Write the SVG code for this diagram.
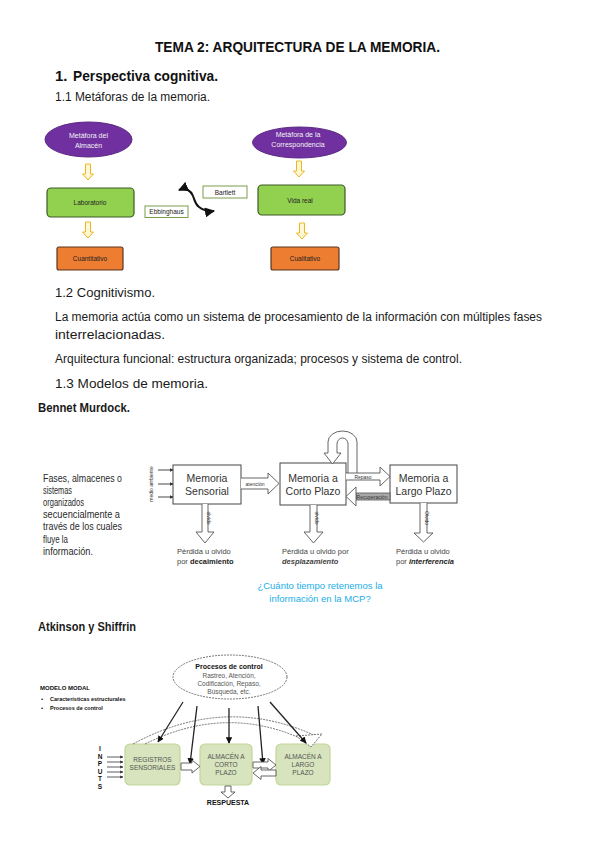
<svg xmlns="http://www.w3.org/2000/svg" width="599" height="848" viewBox="0 0 599 848">
<defs>
<style>
text{font-family:"Liberation Sans",Arial,sans-serif;fill:#111}
.b{font-weight:bold}
.bi{font-weight:bold;font-style:italic}
.p{font-size:12.5px;fill:#1a1a1a}
.dt{font-size:6.5px;fill:#222}
.wt{font-size:7px;fill:#f2f2f2}
.ml{font-size:10px;fill:#2a2a2a}
.bx{font-size:10.5px;fill:#333}
.tiny{font-size:5px;fill:#333}
.cap{font-size:7.5px;fill:#444}
.q{font-size:9.5px;fill:#1aaee8}
.at{font-size:6.5px;fill:#555}
.ya{fill:#fff6d5;stroke:#e8b820;stroke-width:1}
.purple{fill:#7030a0;stroke:#5a2a82;stroke-width:1}
.green{fill:#92d050;stroke:#3d5a26;stroke-width:1.2}
.orange{fill:#ed7d31;stroke:#5b3420;stroke-width:1.2}
.wbox{fill:#fff;stroke:#7aa04a;stroke-width:1}
.mb{fill:#fff;stroke:#444;stroke-width:1}
.ho{fill:#fff;stroke:#555;stroke-width:0.9}
.ab{fill:#d7e4bd;stroke:#c2d69b;stroke-width:1.2}
.blk{fill:none;stroke:#222;stroke-width:1.3}
.dash{fill:none;stroke:#666;stroke-width:0.9;stroke-dasharray:2 1}
</style>
<marker id="ah" viewBox="0 0 10 10" refX="9" refY="5" markerWidth="5" markerHeight="5" orient="auto-start-reverse"><path d="M0,0 L10,5 L0,10 z" fill="#111"/></marker>
<marker id="ah2" viewBox="0 0 10 10" refX="9" refY="5" markerWidth="4" markerHeight="4" orient="auto"><path d="M0,0 L10,5 L0,10 z" fill="#333"/></marker>
<path id="ya" d="M-2.5,0 H2.5 V10 H5.5 L0,16 L-5.5,10 H-2.5 Z"/>
</defs>
<rect width="599" height="848" fill="#fff"/>

<g id="headings">
<text x="155" y="52" class="b" font-size="15" textLength="285" lengthAdjust="spacingAndGlyphs">TEMA 2: ARQUITECTURA DE LA MEMORIA.</text>
<text x="55" y="81" class="b" font-size="15">1.</text>
<text x="73" y="81" class="b" font-size="15" textLength="145" lengthAdjust="spacingAndGlyphs">Perspectiva cognitiva.</text>
<text x="55" y="101" class="p" textLength="155" lengthAdjust="spacingAndGlyphs">1.1 Metáforas de la memoria.</text>
<text x="55" y="297" class="p" textLength="100" lengthAdjust="spacingAndGlyphs">1.2 Cognitivismo.</text>
<text x="55" y="321" class="p" textLength="487" lengthAdjust="spacingAndGlyphs">La memoria actúa como un sistema de procesamiento de la información con múltiples fases</text>
<text x="55" y="339" class="p" textLength="110" lengthAdjust="spacingAndGlyphs">interrelacionadas.</text>
<text x="55" y="363" class="p" textLength="407" lengthAdjust="spacingAndGlyphs">Arquitectura funcional: estructura organizada; procesos y sistema de control.</text>
<text x="55" y="388" class="p" textLength="153" lengthAdjust="spacingAndGlyphs">1.3 Modelos de memoria.</text>
<text x="38" y="412" class="p b" textLength="92" lengthAdjust="spacingAndGlyphs">Bennet Murdock.</text>
<text x="38" y="631" class="p b" textLength="98" lengthAdjust="spacingAndGlyphs">Atkinson y Shiffrin</text>
</g>

<!-- Metaphors diagram -->
<g id="met-almacen">
<ellipse cx="88.5" cy="139.5" rx="43.5" ry="17.5" class="purple"/>
<text x="88.5" y="138" class="wt" text-anchor="middle">Metáfora del</text>
<text x="88.5" y="147.5" class="wt" text-anchor="middle">Almacén</text>
</g>
<g id="laboratorio">
<rect x="47" y="188" width="87" height="29" rx="4" class="green"/>
<text x="90" y="205" class="dt" text-anchor="middle">Laboratorio</text>
</g>
<g id="cuantitativo">
<rect x="57" y="247" width="66" height="23" rx="2" class="orange"/>
<text x="90" y="261" class="dt" text-anchor="middle">Cuantitativo</text>
</g>
<g id="met-corresp">
<ellipse cx="299.5" cy="142.5" rx="47" ry="15.5" class="purple"/>
<text x="298" y="137" class="wt" text-anchor="middle">Metáfora de la</text>
<text x="298" y="147" class="wt" text-anchor="middle">Correspondencia</text>
</g>
<g id="vida-real">
<rect x="258" y="185" width="87" height="30" rx="4" class="green"/>
<text x="300" y="203" class="dt" text-anchor="middle">Vida real</text>
</g>
<g id="cualitativo">
<rect x="271" y="247" width="68" height="23" rx="2" class="orange"/>
<text x="305" y="261" class="dt" text-anchor="middle">Cualitativo</text>
</g>
<g id="ebbinghaus">
<rect x="145" y="206" width="43" height="11.5" class="wbox"/>
<text x="166.5" y="214" class="dt" font-size="6" text-anchor="middle">Ebbinghaus</text>
</g>
<g id="bartlett">
<rect x="203" y="186" width="44" height="12" class="wbox"/>
<text x="225" y="194.5" class="dt" font-size="6" text-anchor="middle">Bartlett</text>
</g>
<g id="met-connectors">
<use href="#ya" x="88" y="164" class="ya"/>
<use href="#ya" x="88" y="222" class="ya"/>
<use href="#ya" x="299" y="161" class="ya"/>
<use href="#ya" x="302" y="223" class="ya"/>
<path d="M179,190 C186,187 191,191 193,196 C195,201 195,204 199,207 C203,210 208,212 214,211" fill="none" stroke="#111" stroke-width="2" marker-start="url(#ah)" marker-end="url(#ah)"/>
</g>

<!-- Murdock -->
<g id="murdock-text">
<text x="43" y="481.5" class="ml" textLength="79" lengthAdjust="spacingAndGlyphs">Fases, almacenes o</text>
<text x="43" y="493.7" class="ml" textLength="29" lengthAdjust="spacingAndGlyphs">sistemas</text>
<text x="43" y="505.9" class="ml" textLength="41" lengthAdjust="spacingAndGlyphs">organizados</text>
<text x="43" y="518.1" class="ml" textLength="77" lengthAdjust="spacingAndGlyphs">secuencialmente a</text>
<text x="43" y="530.3" class="ml" textLength="79" lengthAdjust="spacingAndGlyphs">través de los cuales</text>
<text x="43" y="542.5" class="ml" textLength="25" lengthAdjust="spacingAndGlyphs">fluye la</text>
<text x="43" y="554.7" class="ml" textLength="50" lengthAdjust="spacingAndGlyphs">información.</text>
</g>
<g id="medio-ambiente">
<text transform="translate(153,484) rotate(-90)" class="tiny" font-size="5.5" text-anchor="middle">medio ambiente</text>
</g>
<g id="memoria-sensorial">
<rect x="173" y="465" width="68" height="39" class="mb"/>
<text x="207" y="482" class="bx" text-anchor="middle">Memoria</text>
<text x="207" y="495" class="bx" text-anchor="middle">Sensorial</text>
</g>
<g id="memoria-corto">
<rect x="280" y="463" width="66" height="42" class="mb"/>
<text x="313" y="482" class="bx" text-anchor="middle">Memoria a</text>
<text x="313" y="495" class="bx" text-anchor="middle">Corto Plazo</text>
</g>
<g id="memoria-largo">
<rect x="390" y="465" width="67" height="38" class="mb"/>
<text x="423.5" y="482" class="bx" text-anchor="middle">Memoria a</text>
<text x="423.5" y="495" class="bx" text-anchor="middle">Largo Plazo</text>
</g>
<g id="murdock-connectors">
<line x1="158" y1="470" x2="173" y2="470" stroke="#333" stroke-width="0.9" marker-end="url(#ah2)"/>
<line x1="158" y1="484" x2="173" y2="484" stroke="#333" stroke-width="0.9" marker-end="url(#ah2)"/>
<line x1="158" y1="497" x2="173" y2="497" stroke="#333" stroke-width="0.9" marker-end="url(#ah2)"/>
<path d="M241,478 H268 V473 L279,483.5 L268,494 V489 H241" class="ho"/>
<text x="255" y="485.5" class="tiny" text-anchor="middle">atención</text>
<path d="M348,473 V444 A5.5,6 0 0 0 337,444 V453 H341 L332.5,464 L324,453 H328 V442 A14.5,11 0 0 1 357,442 V473" class="ho"/>
<path d="M346,473 H380 V467 L390,476.5 L380,486 V480 H346" class="ho"/>
<text x="363" y="478.5" class="tiny" font-size="4.5" text-anchor="middle">Repaso</text>
<rect x="356" y="493" width="34" height="7" fill="#a8a8a8" stroke="#555" stroke-width="0.8"/>
<path d="M356,487 L346,496.5 L356,506 Z" class="ho"/>
<text x="372" y="498.5" class="tiny" font-size="4.5" text-anchor="middle">Recuperación</text>
<path d="M202,504 V532 H196 L205,543 L214,532 H208 V504" class="ho"/>
<text transform="translate(206.5,518) rotate(90)" class="tiny" font-size="4.5" text-anchor="middle">olvido</text>
<path d="M310,505 V532 H304 L313.5,543 L323,532 H317 V505" class="ho"/>
<text transform="translate(315,518) rotate(90)" class="tiny" font-size="4.5" text-anchor="middle">olvido</text>
<path d="M420,503 V533 H414 L423.5,542 L433,533 H427 V503" class="ho"/>
<text transform="translate(425,518) rotate(90)" class="tiny" font-size="4.5" text-anchor="middle">Olvido</text>
</g>
<g id="captions">
<text x="177" y="554" class="cap">Pérdida u olvido</text>
<text x="177" y="564" class="cap">por <tspan class="b" fill="#222">decaimiento</tspan></text>
<text x="282" y="554" class="cap">Pérdida u olvido por</text>
<text x="282" y="564" class="cap bi" fill="#222">desplazamiento</text>
<text x="396" y="554" class="cap">Pérdida u olvido</text>
<text x="396" y="564" class="cap">por <tspan class="bi" fill="#222">interferencia</tspan></text>
<text x="320" y="589" class="q" text-anchor="middle">¿Cuánto tiempo retenemos la</text>
<text x="320" y="602" class="q" text-anchor="middle">información en la MCP?</text>
</g>

<!-- Atkinson -->
<g id="modelo-modal">
<text x="40" y="690" class="b" font-size="6" fill="#333">MODELO MODAL</text>
<text x="41" y="701" font-size="6" fill="#333">•</text>
<text x="50" y="701" class="b" font-size="5.5" fill="#333">Características estructurales</text>
<text x="41" y="710" font-size="6" fill="#333">•</text>
<text x="50" y="710" class="b" font-size="5.5" fill="#333">Procesos de control</text>
</g>
<g id="procesos-control">
<ellipse cx="230" cy="677" rx="57" ry="22" fill="#fff" stroke="#666" stroke-width="0.9" stroke-dasharray="2 1"/>
<text x="229" y="669" class="b" font-size="7" fill="#333" text-anchor="middle">Procesos de control</text>
<text x="229" y="677.5" class="at" font-size="6" text-anchor="middle">Rastreo, Atención,</text>
<text x="229" y="685.5" class="at" font-size="6" text-anchor="middle">Codificación, Repaso,</text>
<text x="229" y="693.5" class="at" font-size="6" text-anchor="middle">Búsqueda, etc.</text>
</g>
<g id="registros">
<rect x="125" y="744" width="55" height="41" rx="5" class="ab"/>
<text x="152.5" y="762" class="at" text-anchor="middle">REGISTROS</text>
<text x="152.5" y="770" class="at" text-anchor="middle">SENSORIALES</text>
</g>
<g id="corto-plazo">
<rect x="200" y="744" width="52" height="41" rx="5" class="ab"/>
<text x="226" y="759" class="at" text-anchor="middle">ALMACÉN A</text>
<text x="226" y="767" class="at" text-anchor="middle">CORTO</text>
<text x="226" y="775" class="at" text-anchor="middle">PLAZO</text>
</g>
<g id="largo-plazo">
<rect x="276" y="744" width="54" height="41" rx="5" class="ab"/>
<text x="303" y="759" class="at" text-anchor="middle">ALMACÉN A</text>
<text x="303" y="767" class="at" text-anchor="middle">LARGO</text>
<text x="303" y="775" class="at" text-anchor="middle">PLAZO</text>
</g>
<g id="inputs">
<text x="100" y="751" class="b" font-size="6.5" fill="#333" text-anchor="middle">I</text>
<text x="100" y="758.5" class="b" font-size="6.5" fill="#333" text-anchor="middle">N</text>
<text x="100" y="766" class="b" font-size="6.5" fill="#333" text-anchor="middle">P</text>
<text x="100" y="773.5" class="b" font-size="6.5" fill="#333" text-anchor="middle">U</text>
<text x="100" y="781" class="b" font-size="6.5" fill="#333" text-anchor="middle">T</text>
<text x="100" y="788.5" class="b" font-size="6.5" fill="#333" text-anchor="middle">S</text>
</g>
<g id="respuesta">
<text x="228" y="805" class="b" font-size="7" fill="#333" text-anchor="middle">RESPUESTA</text>
</g>
<g id="atkinson-connectors">
<line x1="107" y1="757" x2="123" y2="757" stroke="#333" stroke-width="0.8" marker-end="url(#ah2)"/>
<line x1="107" y1="762" x2="123" y2="762" stroke="#333" stroke-width="0.8" marker-end="url(#ah2)"/>
<line x1="107" y1="767" x2="123" y2="767" stroke="#333" stroke-width="0.8" marker-end="url(#ah2)"/>
<line x1="107" y1="772" x2="123" y2="772" stroke="#333" stroke-width="0.8" marker-end="url(#ah2)"/>
<line x1="107" y1="777" x2="123" y2="777" stroke="#333" stroke-width="0.8" marker-end="url(#ah2)"/>
<path d="M133,744 Q225,694 316,736" class="dash"/>
<path d="M145,744 Q225,704 302,739" class="dash"/>
<path d="M296,736 L322,734 L311,747 Z" fill="#fff" stroke="#666" stroke-width="0.9" stroke-dasharray="2 1"/>
<line x1="183" y1="702" x2="158" y2="742" class="blk" marker-end="url(#ah)"/>
<line x1="197" y1="706" x2="190" y2="764" class="blk" marker-end="url(#ah)"/>
<line x1="229" y1="708" x2="229" y2="743" class="blk" marker-end="url(#ah)"/>
<line x1="258" y1="706" x2="263" y2="764" class="blk" marker-end="url(#ah)"/>
<line x1="270" y1="702" x2="306" y2="743" class="blk" marker-end="url(#ah)"/>
<path d="M181,763 H192 V760 L200,766.5 L192,773 V770 H181 Z" class="ho"/>
<path d="M253,762 H268 V758.5 L276,765 L268,771.5 V768 H253 Z" class="ho"/>
<path d="M276,770 H261 V766.5 L253,773 L261,779.5 V776 H276 Z" class="ho"/>
<path d="M225,786 V792 H221 L228,798 L235,792 H231 V786 Z" class="ho"/>
</g>
</svg>
